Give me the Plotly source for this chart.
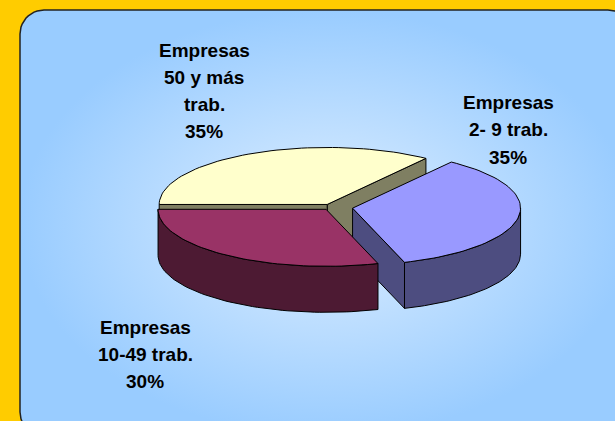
import numpy as np
import plotly.graph_objects as go

# ---- data ----
categories = ["Empresas 2- 9 trab.", "Empresas 10-49 trab.", "Empresas 50 y más trab."]
values = [35, 30, 35]
label_lines = [["Empresas", "2- 9 trab."], ["Empresas", "10-49 trab."], ["Empresas", "50 y más", "trab."]]
top_colors = ["#9999FF", "#993366", "#FFFFCC"]
side_colors = ["#4D4D80", "#4D1A33", "#7F7F62"]
explode = [0.13, 0.05, 0.05]

# ---- geometry / style ----
W, H = 615, 421
cx, cy, rx, ry, depth = 331, 207, 168, 57, 46
start_deg = 54  # start angle (math degrees), slices go clockwise
label_pos = [(508, 102, 27.5), (145, 327, 27), (204, 50, 27)]
draw_order = [2, 0, 1]

fig = go.Figure()

# background panel (rounded rectangle with radial gradient)
x0, y0, x1, y1, r = 20, 10, 632, 436, 24
px, py = [], []
for (ccx, ccy, a0) in [(x1 - r, y0 + r, 270), (x1 - r, y1 - r, 0), (x0 + r, y1 - r, 90), (x0 + r, y0 + r, 180)]:
    for a in np.linspace(a0, a0 + 90, 12):
        px.append(ccx + r * np.cos(np.radians(a)))
        py.append(ccy + r * np.sin(np.radians(a)))
px.append(px[0]); py.append(py[0])
fig.add_trace(go.Scatter(
    x=px, y=py, mode="lines", fill="toself",
    line=dict(color="#222222", width=1.5),
    fillgradient=dict(type="radial", colorscale=[[0, "#DDEEFF"], [1, "#99CCFF"]]),
    hoverinfo="skip", showlegend=False))

total = sum(values)
cum = np.concatenate([[0], np.cumsum(values)])


def arc(c, t_a, t_b, dy=0, n=60):
    ts = np.radians(np.linspace(t_a, t_b, n))
    return list(c[0] + rx * np.cos(ts)), list(c[1] - ry * np.sin(ts) + dy)


def poly(xs, ys, color):
    fig.add_trace(go.Scatter(
        x=xs + [xs[0]], y=ys + [ys[0]], mode="lines", fill="toself",
        fillcolor=color, line=dict(color="black", width=1),
        hoverinfo="skip", showlegend=False))


for i in draw_order:
    t1 = start_deg - 360 * cum[i + 1] / total
    t2 = start_deg - 360 * cum[i] / total
    m = np.radians((t1 + t2) / 2)
    P = (cx + explode[i] * rx * np.cos(m), cy - explode[i] * ry * np.sin(m))
    # outer wall (front half only)
    for k in (-1, 0, 1):
        a = max(t1, -180 + 360 * k)
        b = min(t2, 360 * k)
        if b - a > 0.5:
            tx, ty = arc(P, a, b)
            bx, by = arc(P, b, a, dy=depth)
            poly(tx + bx, ty + by, side_colors[i])
    # radial faces
    for t, vis in ((t1, np.cos(np.radians(t1)) > 0), (t2, np.cos(np.radians(t2)) < 0)):
        if vis:
            ex = P[0] + rx * np.cos(np.radians(t))
            ey = P[1] - ry * np.sin(np.radians(t))
            poly([P[0], ex, ex, P[0]], [P[1], ey, ey + depth, P[1] + depth], side_colors[i])
    # top face
    tx, ty = arc(P, t1, t2)
    poly([P[0]] + tx, [P[1]] + ty, top_colors[i])

# labels
for i in range(len(values)):
    pct = round(100 * values[i] / total)
    lines = label_lines[i] + [f"{pct}%"]
    lx, ly, sp = label_pos[i]
    for j, txt in enumerate(lines):
        fig.add_annotation(x=lx, y=ly + j * sp, text=f"<b>{txt}</b>", showarrow=False,
                           font=dict(family="Liberation Sans, Arial", size=19, color="black"),
                           xanchor="center", yanchor="middle")

fig.update_layout(
    width=W, height=H, margin=dict(l=0, r=0, t=0, b=0),
    paper_bgcolor="#FFCC00", plot_bgcolor="#FFCC00",
    xaxis=dict(range=[0, W], visible=False, fixedrange=True),
    yaxis=dict(range=[H, 0], visible=False, fixedrange=True),
    showlegend=False,
)
fig.write_html("out.html", config={"displayModeBar": False},
               post_script="document.body.style.margin='0';document.body.style.background='#FFCC00';")
